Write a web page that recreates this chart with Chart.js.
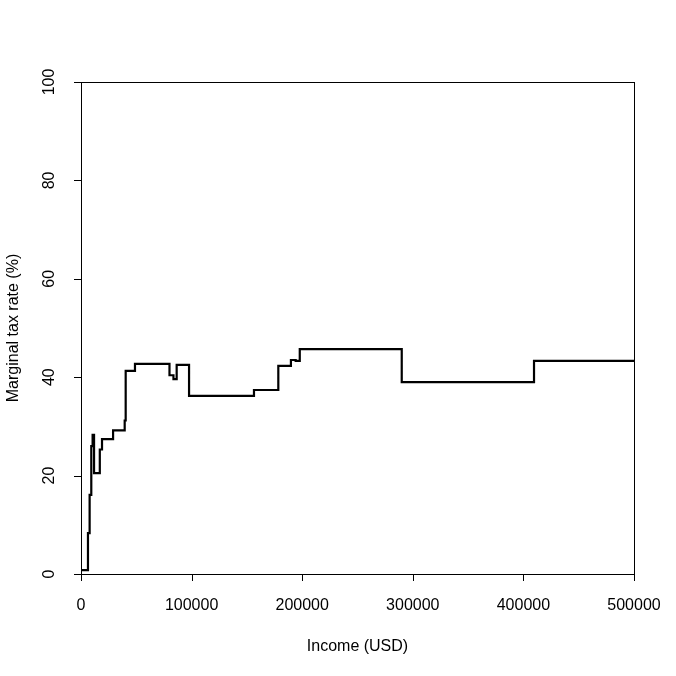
<!DOCTYPE html>
<html>
<head>
<meta charset="utf-8">
<script src="https://cdn.jsdelivr.net/npm/chart.js@4"></script>
<style>
  body { margin: 0; background: #fff; }
  canvas { display: block; }
</style>
</head>
<body>
<canvas id="myChart" width="676" height="676"></canvas>
<script>
// bracket start incomes (USD) and the marginal rate from there on (%)
const incomes = [0, 6300, 7800, 9300, 10500, 11800, 17000, 19000, 29000, 39500, 40400,
  48800, 80000, 83600, 86500, 97700, 156400, 178400, 189800, 194100, 197800,
  290000, 409600, 500000];
const rates = [0.8, 8.3, 16.1, 26, 28.3, 20.5, 25.3, 27.4, 29.2, 31.2, 41.3,
  42.7, 40.4, 39.6, 42.5, 36.2, 37.4, 42.3, 43.5, 43.3, 45.7,
  39.0, 43.3, 43.3];
const xTicks = [0, 100000, 200000, 300000, 400000, 500000];
const yTicks = [0, 20, 40, 60, 80, 100];
const xTitle = "Income (USD)";
const yTitle = "Marginal tax rate (%)";

const font = '16px "Liberation Sans", Arial, sans-serif';

// R style box, ticks and labels
const rAxes = {
  id: "rAxes",
  afterDraw(chart) {
    const c = chart.ctx;
    const a = chart.chartArea;
    const sx = chart.scales.x, sy = chart.scales.y;
    c.save();
    c.strokeStyle = "#000";
    c.lineWidth = 1;
    c.strokeRect(a.left + 0.5, a.top + 0.5, a.right - a.left, a.bottom - a.top);
    c.fillStyle = "#000";
    c.font = font;
    c.textAlign = "center";
    c.textBaseline = "middle";
    c.beginPath();
    xTicks.forEach(function (t) {
      const px = Math.round(sx.getPixelForValue(t)) + 0.5;
      c.moveTo(px, a.bottom);
      c.lineTo(px, a.bottom + 7);
    });
    yTicks.forEach(function (t) {
      const py = Math.round(sy.getPixelForValue(t)) + 0.5;
      c.moveTo(a.left, py);
      c.lineTo(a.left - 7, py);
    });
    c.stroke();
    xTicks.forEach(function (t) {
      c.fillText(String(t), sx.getPixelForValue(t), a.bottom + 32);
    });
    yTicks.forEach(function (t) {
      c.save();
      c.translate(a.left - 31, sy.getPixelForValue(t));
      c.rotate(-Math.PI / 2);
      c.fillText(String(t), 0, 0);
      c.restore();
    });
    c.fillText(xTitle, (a.left + a.right) / 2, a.bottom + 73);
    c.save();
    c.translate(a.left - 67, (a.top + a.bottom) / 2);
    c.rotate(-Math.PI / 2);
    c.fillText(yTitle, 0, 0);
    c.restore();
    c.restore();
  }
};

const ctx = document.getElementById("myChart");
new Chart(ctx, {
  type: "line",
  data: {
    datasets: [
      {
        data: incomes.map(function (x, i) { return { x: x, y: rates[i] }; }),
        stepped: true,
        borderColor: "#000",
        borderWidth: 2.2,
        pointRadius: 0,
        fill: false,
      },
    ],
  },
  options: {
    responsive: false,
    animation: false,
    devicePixelRatio: 1,
    layout: { padding: { left: 81, top: 82, right: 42, bottom: 102 } },
    plugins: { legend: { display: false }, tooltip: { enabled: false } },
    scales: {
      x: { type: "linear", min: 0, max: 500000, display: false },
      y: { type: "linear", min: 0, max: 100, display: false },
    },
  },
  plugins: [rAxes],
});
</script>
</body>
</html>
